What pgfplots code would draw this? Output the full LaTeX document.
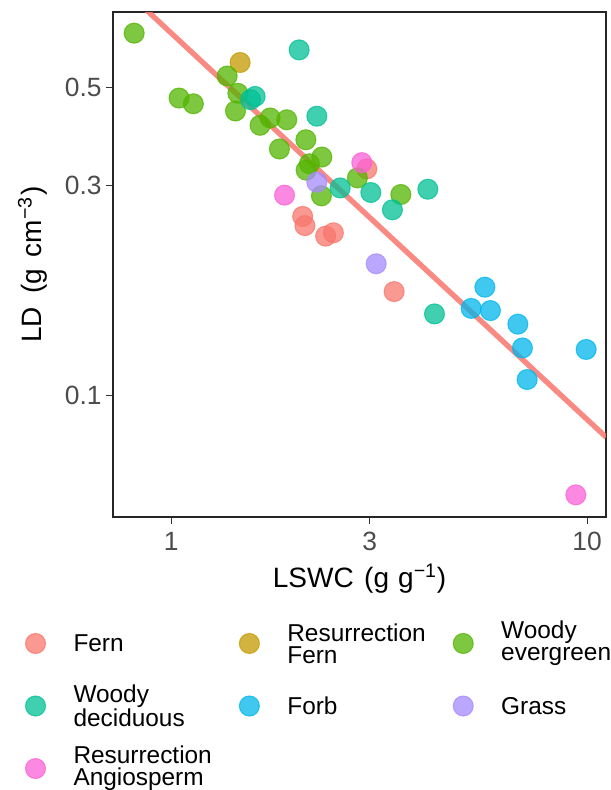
\documentclass[border=0pt]{standalone}
\usepackage{pgfplots}
\pgfplotsset{compat=1.18}
\usepackage{fontspec}
\setmainfont{Liberation Sans}

\definecolor{cFern}{HTML}{F8766D}
\definecolor{cResFern}{HTML}{C49A00}
\definecolor{cWoodyEv}{HTML}{53B400}
\definecolor{cWoodyDec}{HTML}{00C094}
\definecolor{cForb}{HTML}{00B6EB}
\definecolor{cGrass}{HTML}{A58AFF}
\definecolor{cResAng}{HTML}{FB61D7}

\newcommand{\legtxt}[1]{\parbox[c][34pt][c]{112pt}{\raggedright #1}}

\pgfplotsset{
  pt/.style={only marks, mark=*, mark size=7.5pt, color=#1,
    fill opacity=0.75, draw opacity=0.75,
    mark options={line width=0.8pt, fill opacity=0.75, draw opacity=0.75}},
}

\begin{document}
\begin{tikzpicture}
\begin{axis}[
  name=ax,
  scale only axis,
  width=369.75pt, height=378.75pt,
  xmode=log, ymode=log,
  xmin=0.725, xmax=11.1,
  ymin=0.0528, ymax=0.744,
  xtick={1,3,10}, xticklabels={1,3,10},
  ytick={0.1,0.3,0.5}, yticklabels={0.1,0.3,0.5},
  xminorticks=false, yminorticks=false,
  tick align=outside, tick pos=left,
  major tick length=5pt,
  every tick/.style={line width=0.8pt, color=black!80},
  axis line style={line width=1.3pt, color=black!85},
  ticklabel style={font=\fontsize{19.8pt}{19.8pt}\selectfont, text=black!70},
  xticklabel style={yshift=-3pt},
  label style={font=\fontsize{21pt}{23pt}\selectfont},
  xlabel={LSWC\hspace{2pt} (g\hspace{1pt} g\textsuperscript{−1})},
  ylabel={LD\hspace{4pt} (g\hspace{3pt} cm\textsuperscript{−3}\hspace{1pt})},
  xlabel style={at={(axis description cs:0.5,-0.139)}, anchor=base},
  ylabel style={at={(axis description cs:-0.163,0.5)}, anchor=center},
  legend columns=3,
  legend cell align=left,
  legend image code/.code={\draw[#1] plot coordinates {(0pt,0pt)};},
  legend style={at={(axis description cs:-0.178,-0.205)}, anchor=north west,
    draw=none, fill=none, inner sep=0pt, row sep=12.9pt,
    nodes={inner sep=0pt, text depth={}},
    font=\fontsize{18.3pt}{16.6pt}\selectfont,
    /tikz/every odd column/.append style={column sep=21pt},
    /tikz/every even column/.append style={column sep=12.4pt}},
]
\addplot[pt=cFern] coordinates {(2.954,0.327) (2.071,0.255) (2.097,0.243) (2.352,0.230) (2.455,0.234) (3.436,0.172)};
\addlegendentry{\legtxt{Fern}}
\addplot[pt=cResFern] coordinates {(1.465,0.571)};
\addlegendentry{\legtxt{Resurrection\\Fern}}
\addplot[pt=cWoodyEv] coordinates {(0.815,0.666) (1.045,0.474) (1.131,0.460) (1.364,0.532) (1.447,0.486) (1.428,0.443) (1.636,0.411) (1.730,0.427) (1.897,0.423) (1.821,0.363) (2.108,0.381) (2.303,0.348) (2.150,0.336) (2.111,0.325) (2.298,0.284) (2.804,0.312) (3.566,0.286)};
\addlegendentry{\legtxt{Woody\\evergreen}}
\addplot[pt=cWoodyDec] coordinates {(2.031,0.610) (1.552,0.470) (1.592,0.478) (2.240,0.431) (2.549,0.296) (3.020,0.289) (3.404,0.264) (4.141,0.294) (4.296,0.153)};
\addlegendentry{\legtxt{Woody\\deciduous}}
\addplot[pt=cForb] coordinates {(5.677,0.176) (5.263,0.1575) (5.855,0.1557) (6.814,0.145) (6.990,0.128) (7.174,0.1085) (9.945,0.127)};
\addlegendentry{\legtxt{Forb}}
\addplot[pt=cGrass] coordinates {(2.240,0.305) (3.111,0.199)};
\addlegendentry{\legtxt{Grass}}
\addplot[pt=cResAng] coordinates {(2.873,0.338) (1.874,0.285) (9.394,0.0593)};
\addlegendentry{\legtxt{Resurrection\\Angiosperm}}
% fitted line
\addplot[color=cFern, line width=4pt, opacity=0.85, forget plot] coordinates {(0.7,0.912) (11.11,0.0802)};
\end{axis}
\pgfresetboundingbox
\path[use as bounding box] ([shift={(-84.75pt,-204.75pt)}]ax.south west) rectangle ([shift={(373.5pt,387.75pt)}]ax.south west);
\end{tikzpicture}
\end{document}
